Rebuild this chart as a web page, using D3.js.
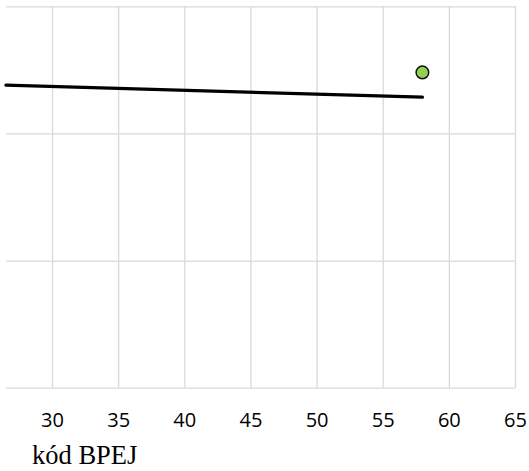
<!DOCTYPE html>
<html>
<head>
<meta charset="utf-8">
<script src="https://cdn.jsdelivr.net/npm/d3@7"></script>
<style>
  body { margin: 0; background: #fff; }
  .grid line { stroke: #d9d9d9; stroke-width: 1.3; }
  .grid path { display: none; }
  .xaxis path, .xaxis line { display: none; }
  .xaxis text { font-family: "Open Sans", sans-serif; font-size: 20px; fill: #000; }
</style>
</head>
<body>
<div id="chartID"></div>
<script>
//x values of the trend line and the single point
var lineX = [26.52, 58];
var lineY = [23.8, 22.85];
var pointX = [58];
var pointY = [24.8];
//tick values
var xTicks = [30, 35, 40, 45, 50, 55, 60, 65];
var yTicks = [0, 10, 20, 30];

var W = 529, H = 471;
var margin = {top: 6.3, right: 14, bottom: 83.3, left: 6};
var width = W - margin.left - margin.right;
var height = H - margin.top - margin.bottom;

var xScale = d3.scaleLinear().domain([26.52, 65]).range([0, width]);
var yScale = d3.scaleLinear().domain([0, 30]).range([height, 0]);

var svg = d3.select("#chartID").append("svg")
    .attr("width", W)
    .attr("height", H)
  .append("g")
    .attr("transform", "translate(" + margin.left + "," + margin.top + ")");

//vertical gridlines
svg.append("g")
    .attr("class", "grid")
    .call(d3.axisBottom(xScale).tickValues(xTicks).tickSize(height).tickFormat(""));

//horizontal gridlines
svg.append("g")
    .attr("class", "grid")
    .call(d3.axisRight(yScale).tickValues(yTicks).tickSize(width).tickFormat(""));

//x axis labels
svg.append("g")
    .attr("class", "xaxis")
    .attr("transform", "translate(0," + height + ")")
    .call(d3.axisBottom(xScale).tickValues(xTicks).tickSize(0).tickPadding(24.8));

//axis title
svg.append("text")
    .attr("x", 26)
    .attr("y", 464 - margin.top)
    .style("font-family", "'Liberation Serif', 'Times New Roman', serif")
    .style("font-size", "26.5px")
    .text("kód BPEJ");

//trend line
var line = d3.line()
    .x(function(d) { return xScale(d[0]); })
    .y(function(d) { return yScale(d[1]); });

svg.append("path")
    .datum(d3.zip(lineX, lineY))
    .attr("d", line)
    .attr("fill", "none")
    .attr("stroke", "#000")
    .attr("stroke-width", 3.3)
    .attr("stroke-linecap", "round");

//point
svg.selectAll(".pt")
    .data(d3.zip(pointX, pointY))
    .enter()
    .append("circle")
    .attr("class", "pt")
    .attr("cx", function(d) { return xScale(d[0]); })
    .attr("cy", function(d) { return yScale(d[1]); })
    .attr("r", 6.3)
    .attr("fill", "#92d050")
    .attr("stroke", "#111")
    .attr("stroke-width", 1.5);
</script>
</body>
</html>
